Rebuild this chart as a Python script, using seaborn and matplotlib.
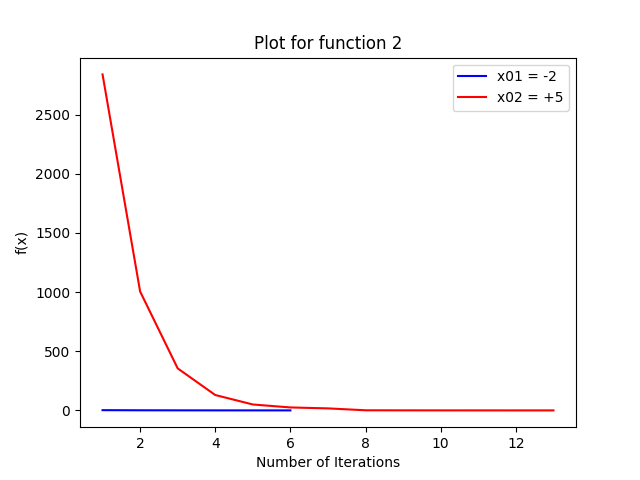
import matplotlib
matplotlib.use('Agg')
import matplotlib.pyplot as plt
import seaborn as sns

iters_1 = [1, 2, 3, 4, 5, 6]
f_1 = [2, 1, 0.5, 0.2, 0.1, 0.05]
iters_2 = [1, 2, 3, 4, 5, 6, 7, 8, 9, 10, 11, 12, 13]
f_2 = [2840, 1005, 355, 130, 50, 25, 17, 1, 0.5, 0.2, 0.1, 0.05, 0.02]

fig, ax = plt.subplots(figsize=(6.4, 4.8), dpi=100)
sns.lineplot(x=iters_1, y=f_1, color='blue', label='x01 = -2', ax=ax)
sns.lineplot(x=iters_2, y=f_2, color='red', label='x02 = +5', ax=ax)
ax.set_title('Plot for function 2')
ax.set_xlabel('Number of Iterations')
ax.set_ylabel('f(x)')
ax.legend(loc='upper right')
fig.savefig('out.png')
